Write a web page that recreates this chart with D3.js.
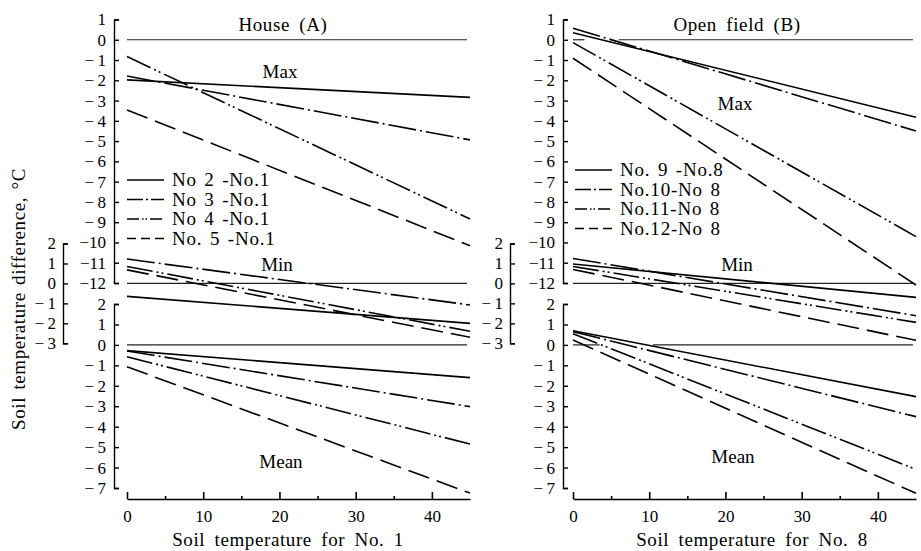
<!DOCTYPE html>
<html>
<head>
<meta charset="utf-8">
<script src="https://cdn.jsdelivr.net/npm/d3@7"></script>
<style>
  body { margin: 0; background: #fff; }
  svg { display: block; font-family: "Liberation Serif", "DejaVu Serif", serif; }
  .lbl { font-size: 19px; fill: #000; }
  .leg { font-size: 19px; fill: #000; letter-spacing: 0.8px; word-spacing: 2px; }
  .ttl { font-size: 19px; fill: #000; letter-spacing: 0.6px; word-spacing: 4px; }
</style>
</head>
<body>
<div id="chart"></div>
<script>
// x values where each regression line starts and ends
var xVals = [0, 45];

var seriesA = ["No 2 -No.1", "No 3 -No.1", "No 4 -No.1", "No. 5 -No.1"];
var seriesB = ["No. 9 -No.8", "No.10-No 8", "No.11-No 8", "No.12-No 8"];

// [value at x=0, value at x=45]
var maxA  = [[-1.98, -2.84], [-1.79, -4.94], [-0.83, -8.84], [-3.46, -10.16]];
var minA  = [[-0.65, -2.0], [1.22, -1.08], [0.85, -2.4], [0.68, -2.7]];
var meanA = [[-0.28, -1.6], [-0.3, -3.02], [-0.58, -4.85], [-1.07, -7.25]];

var maxB  = [[0.35, -3.82], [0.57, -4.5], [-0.14, -9.71], [-0.91, -12.1]];
var minB  = [[0.97, -0.7], [1.25, -1.62], [0.85, -1.95], [0.7, -2.85]];
var meanB = [[0.69, -2.53], [0.65, -3.51], [0.55, -6.09], [0.24, -7.26]];

// zero reference line pieces (x ranges)
var zeroA = {max: [[0, 44.6]], min: [[0, 44.6]], mean: [[0, 44.6]]};
var zeroB = {max: [[0, 1.5], [6, 44.6]], min: [[0, 44.6]], mean: [[0, 3.5], [10.5, 44.6]]};

var maxTicks  = d3.range(1, -13, -1);
var minTicks  = [2, 1, 0, -1, -2, -3];
var meanTicks = d3.range(2, -8, -1);
var xTicks = [0, 10, 20, 30, 40];
var xMinor = [5, 15, 25, 35];

var width = 921, height = 551;

var svg = d3.select("#chart").append("svg")
    .attr("width", width)
    .attr("height", height);

var yMax  = d3.scaleLinear().domain([1, -12]).range([19.5, 283]);
var yMin  = d3.scaleLinear().domain([2, -3]).range([243.5, 343.3]);
var yMean = d3.scaleLinear().domain([2, -7]).range([304, 488]);

var dashes = [null, "28,4,2,4", "26,4,2,3,2,4", "22,8"];
var legendDashes = [null, "16,3,2,3", "12,3,1.5,2,1.5,3", "9,5"];

var fmt = function(d){
    if (d < 0) return "\u2212" + (d > -10 ? "\u2009" : "") + Math.abs(d);
    return "" + d;
};

// replace the d3 axis defaults (10px sans-serif)
var plainAxis = function(a){
    a.attr("font-family", null).attr("font-size", null);
    a.selectAll("path, line").attr("stroke", "#000").attr("stroke-width", 1.4);
    a.selectAll("text")
        .style("font-family", "'Liberation Serif', 'DejaVu Serif', serif")
        .style("font-size", "17px")
        .style("fill", "#000");
};

//**************************************************************************
//** drawPanel
//**************************************************************************
var drawPanel = function(cfg){
    var g = svg.append("g");
    var x = d3.scaleLinear().domain([0, 45]).range(cfg.xRange);

  // y axes
    var yAxis = function(scale, ticks, xPos, pad){
        g.append("g")
            .attr("transform", "translate(" + xPos + ",0)")
            .call(d3.axisLeft(scale).tickValues(ticks).tickFormat(fmt)
                .tickSizeInner(-5).tickSizeOuter(-5).tickPadding(pad))
            .call(plainAxis);
    };
    yAxis(yMax, maxTicks, cfg.axisX, 8);
    yAxis(yMin, minTicks, cfg.minAxisX, 7);
    yAxis(yMean, meanTicks, cfg.axisX, 8);

  // x axis
    var xg = g.append("g").attr("transform", "translate(0,499)");
    xg.call(d3.axisBottom(x).tickValues(xTicks).tickSizeInner(-7).tickSizeOuter(0).tickPadding(11));
    xg.append("g").call(d3.axisBottom(x).tickValues(xMinor).tickSizeInner(-3).tickSizeOuter(0).tickFormat(""))
        .call(plainAxis)
        .select(".domain").remove();
    xg.call(plainAxis);
    xg.selectAll("path, line").attr("stroke-width", 1.6);

  // zero lines
    var groups = [["max", yMax], ["min", yMin], ["mean", yMean]];
    groups.forEach(function(gr){
        cfg.zero[gr[0]].forEach(function(seg){
            g.append("line")
                .attr("x1", x(seg[0])).attr("x2", x(seg[1]))
                .attr("y1", gr[1](0)).attr("y2", gr[1](0))
                .attr("stroke", "#222").attr("stroke-width", 1.2);
        });
    });

  // regression lines
    var line = function(scale){
        return d3.line().x(function(d, i){ return x(xVals[i]); }).y(function(d){ return scale(d); });
    };
    [[cfg.max, yMax], [cfg.min, yMin], [cfg.mean, yMean]].forEach(function(set){
        set[0].forEach(function(vals, i){
            g.append("path")
                .attr("d", line(set[1])(vals))
                .attr("fill", "none")
                .attr("stroke", "#000")
                .attr("stroke-width", 1.6)
                .attr("stroke-dasharray", dashes[i]);
        });
    });

  // legend
    cfg.series.forEach(function(name, i){
        var y = cfg.legendY + i * 19.5;
        g.append("line")
            .attr("x1", cfg.legendX).attr("x2", cfg.legendX + 37)
            .attr("y1", y).attr("y2", y)
            .attr("stroke", "#000").attr("stroke-width", 1.6)
            .attr("stroke-dasharray", legendDashes[i]);
        g.append("text").attr("class", "leg")
            .attr("x", cfg.legendX + 45).attr("y", y + 6)
            .text(name);
    });

  // labels
    cfg.labels.forEach(function(l){
        g.append("text").attr("class", l[3] || "lbl")
            .attr("x", l[1]).attr("y", l[2])
            .attr("text-anchor", "middle")
            .text(l[0]);
    });
};

drawPanel({
    xRange: [127, 470], axisX: 114, minAxisX: 63,
    max: maxA, min: minA, mean: meanA, zero: zeroA,
    series: seriesA, legendX: 127, legendY: 180,
    labels: [["House (A)", 283, 31, "ttl"], ["Max", 280, 78], ["Min", 277, 271],
             ["Mean", 281, 468], ["Soil temperature for No. 1", 288, 546, "ttl"]]
});

drawPanel({
    xRange: [573, 916], axisX: 563, minAxisX: 510,
    max: maxB, min: minB, mean: meanB, zero: zeroB,
    series: seriesB, legendX: 575, legendY: 170,
    labels: [["Open field (B)", 737, 31, "ttl"], ["Max", 735, 110], ["Min", 737, 271],
             ["Mean", 733, 463], ["Soil temperature for No. 8", 752, 546, "ttl"]]
});

svg.append("text").attr("class", "ttl")
    .attr("transform", "translate(25,299) rotate(-90)")
    .attr("text-anchor", "middle")
    .style("word-spacing", "2px")
    .text("Soil temperature difference, \u00b0C");
</script>
</body>
</html>
